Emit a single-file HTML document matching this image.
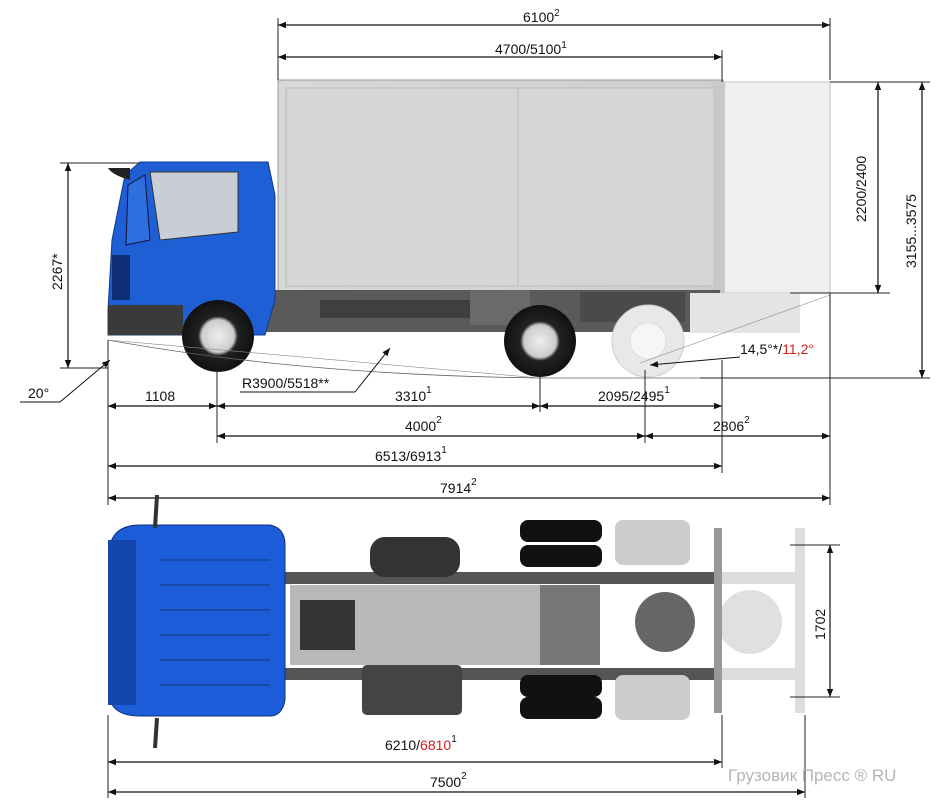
<!DOCTYPE html>
<html><head><meta charset="utf-8"><style>
html,body{margin:0;padding:0;background:#fff;width:942px;height:803px;overflow:hidden}
svg{display:block}
text{font-family:"Liberation Sans",Arial,sans-serif;font-size:14px;fill:#111}
.s{font-size:10px}
</style></head><body>
<svg width="942" height="803" viewBox="0 0 942 803" xmlns="http://www.w3.org/2000/svg">
<defs>
<marker id="a" viewBox="0 0 10 10" refX="10" refY="5" markerWidth="10" markerHeight="8" orient="auto-start-reverse" markerUnits="userSpaceOnUse"><path d="M0,1 L10,5 L0,9z" fill="#111"/></marker>
<radialGradient id="w" cx="50%" cy="50%" r="50%"><stop offset="0" stop-color="#eee"/><stop offset=".45" stop-color="#ccc"/><stop offset=".55" stop-color="#222"/><stop offset="1" stop-color="#111"/></radialGradient>
<linearGradient id="bx" x1="0" x2="1"><stop offset="0" stop-color="#d8d8d8"/><stop offset="1" stop-color="#cfcfcf"/></linearGradient>
</defs>

<rect x="278" y="80" width="445" height="213" fill="url(#bx)" stroke="#999"/>
<rect x="286" y="88" width="430" height="198" fill="#d6d6d6" stroke="#bbb"/>
<line x1="518" y1="88" x2="518" y2="286" stroke="#bbb"/>
<rect x="723" y="82" width="107" height="211" fill="#efefef" stroke="#c4c4c4"/>
<rect x="713" y="82" width="12" height="211" fill="#c8c8c8"/>
<rect x="265" y="290" width="455" height="42" fill="#5a5a5a"/>
<rect x="580" y="292" width="105" height="30" fill="#4a4a4a"/>
<rect x="690" y="293" width="110" height="40" fill="#e4e4e4"/>
<rect x="320" y="300" width="180" height="18" fill="#3f3f3f"/>
<rect x="470" y="290" width="60" height="35" fill="#6a6a6a"/>
<path d="M108,310 L112,240 L125,175 L140,162 L268,162 L275,195 L275,300 L265,335 L108,335z" fill="#1f5fd6" stroke="#123a8a"/>
<path d="M150,172 L238,172 L238,232 L160,240z" fill="#c9ced6" stroke="#333"/>
<path d="M128,185 L145,175 L150,240 L126,245z" fill="#2e6fe0" stroke="#113"/>
<rect x="108" y="305" width="75" height="30" fill="#3a3a3a"/>
<path d="M108,168 Q112,175 130,180 L130,168z" fill="#222"/>
<rect x="112" y="255" width="18" height="45" fill="#0e2f78"/>
<circle cx="218" cy="336" r="36" fill="url(#w)"/>
<circle cx="540" cy="341" r="36" fill="url(#w)"/>
<circle cx="648" cy="341" r="36" fill="#e8e8e8" stroke="#ccc"/>
<circle cx="648" cy="341" r="18" fill="#f6f6f6" stroke="#ddd"/>
<path d="M108,340 Q300,375 540,378 L922,378" fill="none" stroke="#666" stroke-width=".8"/>
<path d="M108,340 L540,378" fill="none" stroke="#888" stroke-width=".6"/>
<path d="M640,363 L830,295" fill="none" stroke="#888" stroke-width=".6"/>

<g stroke="#222" stroke-width="1">
<line x1="278" y1="18" x2="278" y2="80"/><line x1="830" y1="18" x2="830" y2="80"/>
<line x1="722" y1="50" x2="722" y2="82"/>
<line x1="830" y1="82" x2="930" y2="82"/><line x1="790" y1="293" x2="890" y2="293"/>
<line x1="60" y1="163" x2="140" y2="163"/><line x1="60" y1="368" x2="108" y2="368"/>
<line x1="108" y1="340" x2="108" y2="505"/><line x1="217" y1="370" x2="217" y2="443"/>
<line x1="540" y1="370" x2="540" y2="412"/><line x1="645" y1="370" x2="645" y2="443"/>
<line x1="722" y1="360" x2="722" y2="473"/><line x1="830" y1="293" x2="830" y2="505"/>
<line x1="700" y1="378" x2="930" y2="378"/>
</g>
<g stroke="#111" stroke-width="1.2" marker-start="url(#a)" marker-end="url(#a)">
<line x1="278" y1="25" x2="830" y2="25"/>
<line x1="278" y1="57" x2="722" y2="57"/>
<line x1="878" y1="82" x2="878" y2="293"/>
<line x1="922" y1="82" x2="922" y2="378"/>
<line x1="68" y1="163" x2="68" y2="368"/>
<line x1="108" y1="406" x2="217" y2="406"/>
<line x1="217" y1="406" x2="540" y2="406"/>
<line x1="540" y1="406" x2="722" y2="406"/>
<line x1="217" y1="436" x2="645" y2="436"/>
<line x1="645" y1="436" x2="830" y2="436"/>
<line x1="108" y1="466" x2="722" y2="466"/>
<line x1="108" y1="498" x2="830" y2="498"/>
<line x1="830" y1="545" x2="830" y2="697"/>
<line x1="108" y1="762" x2="722" y2="762"/>
<line x1="108" y1="792" x2="805" y2="792"/>
</g>
<g stroke="#111" stroke-width="1">
<line x1="20" y1="402" x2="60" y2="402"/><line x1="60" y1="402" x2="110" y2="360" marker-end="url(#a)"/>
<line x1="240" y1="392" x2="355" y2="392"/><line x1="355" y1="392" x2="390" y2="348" marker-end="url(#a)"/>
<line x1="740" y1="357" x2="650" y2="365" marker-end="url(#a)"/>
</g>
<text x="523" y="22">6100<tspan class="s" dy="-6">2</tspan></text>
<text x="495" y="54">4700/5100<tspan class="s" dy="-6">1</tspan></text>
<text transform="translate(866,222) rotate(-90)">2200/2400</text>
<text transform="translate(916,268) rotate(-90)">3155...3575</text>
<text transform="translate(62,290) rotate(-90)">2267*</text>
<text x="28" y="398">20°</text>
<text x="242" y="388">R3900/5518**</text>
<text x="740" y="354">14,5°*/<tspan fill="#d02020">11,2°</tspan></text>
<text x="145" y="401">1108</text>
<text x="395" y="401">3310<tspan class="s" dy="-8">1</tspan></text>
<text x="598" y="401">2095/2495<tspan class="s" dy="-8">1</tspan></text>
<text x="405" y="431">4000<tspan class="s" dy="-8">2</tspan></text>
<text x="713" y="431">2806<tspan class="s" dy="-8">2</tspan></text>
<text x="375" y="461">6513/6913<tspan class="s" dy="-8">1</tspan></text>
<text x="440" y="493">7914<tspan class="s" dy="-8">2</tspan></text>

<rect x="280" y="572" width="440" height="12" fill="#555"/>
<rect x="280" y="668" width="440" height="12" fill="#555"/>
<rect x="720" y="572" width="85" height="12" fill="#ddd"/>
<rect x="720" y="668" width="85" height="12" fill="#ddd"/>
<rect x="520" y="520" width="82" height="22" rx="8" fill="#111"/>
<rect x="520" y="545" width="82" height="22" rx="8" fill="#111"/>
<rect x="520" y="675" width="82" height="22" rx="8" fill="#111"/>
<rect x="520" y="697" width="82" height="22" rx="8" fill="#111"/>
<rect x="615" y="520" width="75" height="45" rx="8" fill="#ccc"/>
<rect x="615" y="675" width="75" height="45" rx="8" fill="#ccc"/>
<rect x="290" y="585" width="250" height="80" fill="#9a9a9a" opacity=".7"/>
<rect x="370" y="537" width="90" height="40" rx="15" fill="#333"/>
<rect x="362" y="665" width="100" height="50" rx="5" fill="#444"/>
<rect x="540" y="585" width="60" height="80" fill="#777"/>
<circle cx="665" cy="622" r="30" fill="#666"/>
<circle cx="750" cy="622" r="32" fill="#e0e0e0"/>
<rect x="714" y="528" width="8" height="185" fill="#999"/>
<rect x="795" y="528" width="10" height="185" fill="#ddd"/>
<rect x="300" y="600" width="55" height="50" fill="#333"/>
<path d="M110,545 Q115,525 140,525 L270,525 Q285,528 285,545 L285,700 Q282,716 270,716 L140,716 Q115,716 110,700z" fill="#1d5cd8" stroke="#0d2f7a"/>
<rect x="108" y="540" width="28" height="165" fill="#1446ad"/>
<g stroke="#164aa8" stroke-width="2">
<line x1="160" y1="560" x2="270" y2="560"/><line x1="160" y1="585" x2="270" y2="585"/><line x1="160" y1="610" x2="270" y2="610"/><line x1="160" y1="635" x2="270" y2="635"/><line x1="160" y1="660" x2="270" y2="660"/><line x1="160" y1="685" x2="270" y2="685"/>
</g>
<line x1="157" y1="495" x2="155" y2="528" stroke="#333" stroke-width="4"/>
<line x1="157" y1="718" x2="155" y2="748" stroke="#333" stroke-width="4"/>
<line x1="790" y1="545" x2="840" y2="545" stroke="#222"/>
<line x1="790" y1="697" x2="840" y2="697" stroke="#222"/>
<line x1="722" y1="715" x2="722" y2="768" stroke="#222"/>
<line x1="805" y1="715" x2="805" y2="798" stroke="#222"/>
<line x1="108" y1="715" x2="108" y2="798" stroke="#222"/>
<text transform="translate(825,640) rotate(-90)">1702</text>
<text x="385" y="750">6210/<tspan fill="#d02020">6810</tspan><tspan class="s" dy="-8">1</tspan></text>
<text x="430" y="787" fill="#d02020">7500<tspan class="s" dy="-8" fill="#111">2</tspan></text>
<text x="728" y="781" style="font-size:17px;fill:#b5b5b5">Грузовик Пресс ® RU</text>
</svg>
</body></html>
